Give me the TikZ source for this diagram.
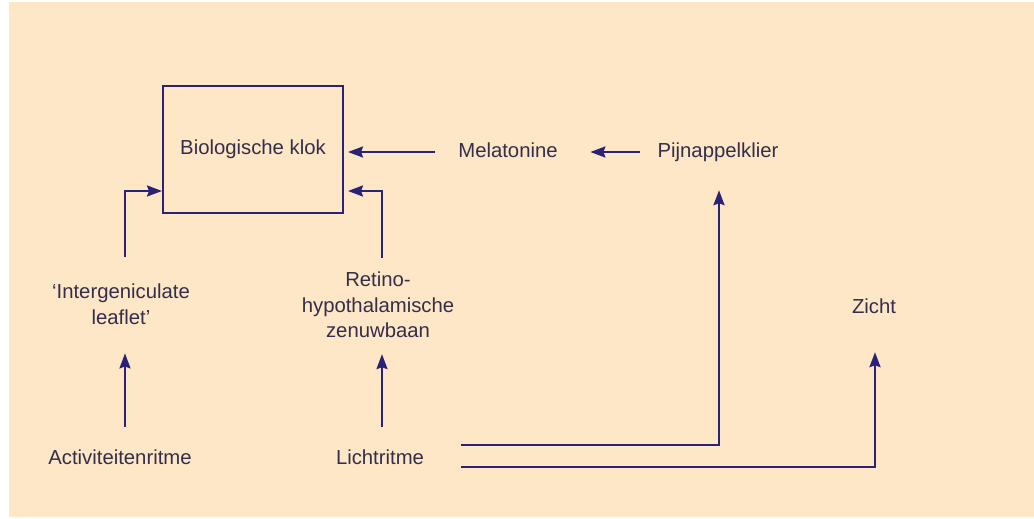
\documentclass[tikz,border=0pt]{standalone}
\usepackage{fontspec}
\setmainfont{Liberation Sans}
\usetikzlibrary{arrows.meta}
\definecolor{bg}{RGB}{253,231,199}
\definecolor{ln}{RGB}{42,34,117}
\definecolor{tx}{RGB}{52,46,74}
\begin{document}
\begin{tikzpicture}[x=1pt,y=-1pt,
  lbl/.style={inner sep=0pt, text=tx, font=\fontsize{20.3}{25.5}\selectfont},
  one/.style={lbl, text height=14pt, text depth=4pt},
  multi/.style={lbl, align=center},
  clock/.style={draw=ln, line width=2pt, minimum width=180pt, minimum height=127pt, inner sep=0pt, text=tx, font=\fontsize{20.3}{25.5}\selectfont},
  arr/.style={draw=ln, line width=2.3pt, -{Stealth[length=15pt,width=11pt,inset=2pt]}}]
\useasboundingbox (0,0) rectangle (1034,519);
\fill[white] (0,0) rectangle (1034,519);
\fill[bg] (9,2) rectangle (1034,517);

\node[clock] (box) at (253,149.5) {Biologische klok};
\node[one] (mel) at (508,152) {Melatonine};
\node[one] (pijn) at (718,152) {Pijnappelklier};
\node[multi] (ig) at (121,304) {`Intergeniculate\\leaflet'};
\node[multi] (rh) at (378,305) {Retino-\\hypothalamische\\zenuwbaan};
\node[one] (zicht) at (874,308) {Zicht};
\node[one] (act) at (120,459) {Activiteitenritme};
\node[one] (licht) at (380,459) {Lichtritme};

\draw[arr, shorten <=23.5pt, shorten >=4pt] (mel.west) -- (box.east |- mel.west);
\draw[arr, shorten <=17.5pt, shorten >=32.5pt] (pijn.west) -- (mel.east);
\draw[arr, shorten <=27pt] ([xshift=4pt]ig.north) |- ([yshift=23pt]box.south west);
\draw[arr, shorten <=14pt, shorten >=4pt] ([xshift=4pt]rh.north) |- ([yshift=23pt]box.south east);
\draw[arr, shorten <=23pt, shorten >=29pt] ([xshift=5pt]act.north) -- ([xshift=5pt]act.north |- ig.south);
\draw[arr, shorten <=23pt, shorten >=16pt] ([xshift=2pt]licht.north) -- ([xshift=2pt]licht.north |- rh.south);
\draw[arr, shorten >=29pt] ([xshift=37pt,yshift=14pt]licht.east) -| ([xshift=1pt]pijn.south);
\draw[arr, shorten >=35pt] ([xshift=37pt,yshift=-8pt]licht.east) -| ([xshift=1pt]zicht.south);
\end{tikzpicture}
\end{document}
